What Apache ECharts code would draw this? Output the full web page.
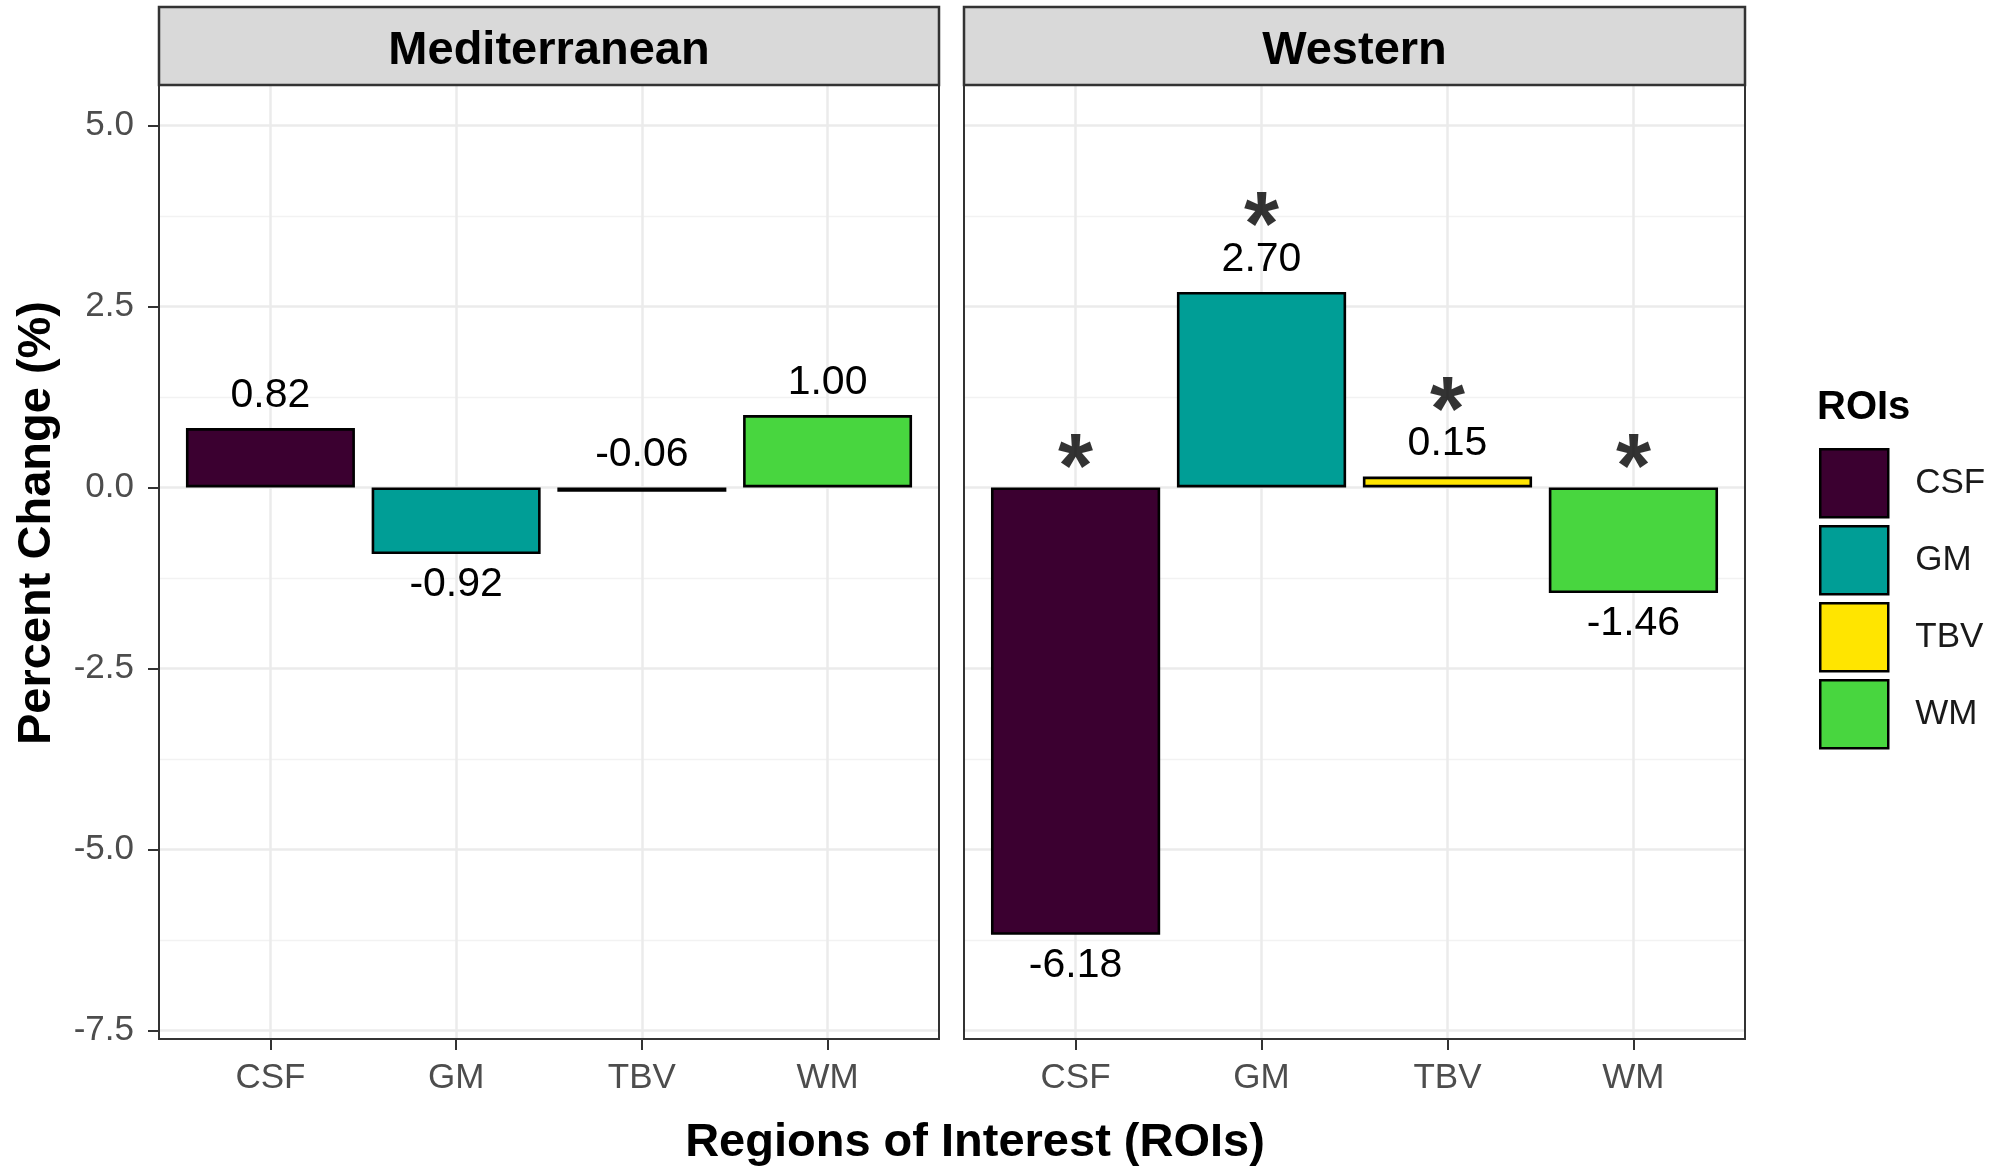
<!DOCTYPE html>
<html>
<head>
<meta charset="utf-8">
<title>Percent Change by ROI</title>
<script src="https://cdn.jsdelivr.net/npm/echarts@6/dist/echarts.min.js"></script>
<style>
  html, body { margin: 0; padding: 0; background: #ffffff; }
  #chart { width: 2006px; height: 1170px; }
</style>
</head>
<body>
<div id="chart"></div>
<script>
// ---- data ----
const categories = ['CSF', 'GM', 'TBV', 'WM'];
const panelNames = ['Mediterranean', 'Western'];
const mediterraneanChange = [0.82, -0.92, -0.06, 1.00];
const westernChange = [-6.18, 2.70, 0.15, -1.46];
const mediterraneanSignificant = [false, false, false, false];
const westernSignificant = [true, true, true, true];
const yTickValues = [-7.5, -5.0, -2.5, 0.0, 2.5, 5.0];
const yMinorValues = [-6.25, -3.75, -1.25, 1.25, 3.75];
const roiColors = ['#3B0030', '#009E96', '#FFE500', '#48D63F'];

const panelValues = [mediterraneanChange, westernChange];
const panelSignificant = [mediterraneanSignificant, westernSignificant];

// ---- layout ----
const FONT = '"Liberation Sans", Arial, Helvetica, sans-serif';
const panelTop = 85, panelBottom = 1039, stripTop = 7;
const panels = [{ left: 159, right: 939 }, { left: 964, right: 1745 }];
const yRange = { min: -7.62, max: 5.56 };
const xRange = { min: 0.4, max: 4.6 };
const xPositions = categories.map((c, i) => i + 1);

const chart = echarts.init(document.getElementById('chart'), null, { renderer: 'canvas' });

const grids = panels.map(p => ({
  left: p.left, top: panelTop, width: p.right - p.left, height: panelBottom - panelTop,
  show: false, containLabel: false
}));

const xAxes = panels.map((p, k) => ({
  type: 'value', gridIndex: k, min: xRange.min, max: xRange.max, position: 'bottom',
  axisLine: { show: false, onZero: false },
  axisTick: { show: true, customValues: xPositions, length: 11, lineStyle: { color: '#333333', width: 2 } },
  axisLabel: {
    show: true, customValues: xPositions, margin: 22,
    fontSize: 35, fontFamily: FONT, color: '#4d4d4d',
    formatter: v => categories[Math.round(v) - 1] || ''
  },
  splitLine: { show: true, lineStyle: { color: '#ebebeb', width: 2.5 } }
}));

const yAxes = [];
panels.forEach((p, k) => {
  // major ticks, labels and grid lines
  yAxes.push({
    type: 'value', gridIndex: k, min: yRange.min, max: yRange.max, position: 'left',
    axisLine: { show: false, onZero: false },
    axisTick: { show: k === 0, customValues: yTickValues, length: 11, lineStyle: { color: '#333333', width: 2 } },
    axisLabel: {
      show: k === 0, customValues: yTickValues, margin: 25,
      fontSize: 35, fontFamily: FONT, color: '#4d4d4d',
      formatter: v => v.toFixed(1)
    },
    splitLine: { show: true, lineStyle: { color: '#ebebeb', width: 2.5 } }
  });
  // minor grid lines
  yAxes.push({
    type: 'value', gridIndex: k, min: yRange.min, max: yRange.max, position: 'right',
    axisLine: { show: false, onZero: false },
    axisTick: { show: false, customValues: yMinorValues },
    axisLabel: { show: false, customValues: yMinorValues },
    splitLine: { show: true, lineStyle: { color: '#f2f2f2', width: 1.3 } }
  });
});

const series = [];
panelValues.forEach((vals, k) => {
  vals.forEach((v, i) => {
    const above = v >= -0.1;
    series.push({
      type: 'bar', name: categories[i],
      xAxisIndex: k, yAxisIndex: k * 2,
      data: [[xPositions[i], v]],
      barWidth: '91%', barGap: '-100%',
      itemStyle: { color: roiColors[i], borderColor: '#000000', borderWidth: 2.6 },
      label: {
        show: true, position: above ? 'top' : 'bottom', distance: above ? 12 : 10,
        fontSize: 41, fontFamily: FONT, color: '#000000',
        formatter: p => p.value[1].toFixed(2)
      },
      emphasis: { disabled: true },
      z: 3
    });
  });
  // significance markers
  const marks = [];
  vals.forEach((v, i) => {
    if (panelSignificant[k][i]) {
      const above = v >= -0.1;
      marks.push({ value: [xPositions[i], Math.max(v, 0)], label: { distance: above ? 16 : -30 } });
    }
  });
  series.push({
    type: 'scatter', name: 'sig-' + k,
    xAxisIndex: k, yAxisIndex: k * 2,
    data: marks, symbol: 'circle', symbolSize: 1,
    itemStyle: { color: 'rgba(0,0,0,0)' },
    label: {
      show: true, position: 'top', formatter: '*',
      fontSize: 90, fontWeight: 'bold', fontFamily: FONT, color: '#000000'
    },
    emphasis: { disabled: true }, silent: true, z: 4
  });
});

const graphics = [];
panels.forEach((p, k) => {
  graphics.push({
    type: 'rect', z: 20,
    shape: { x: p.left, y: stripTop, width: p.right - p.left, height: panelTop - stripTop },
    style: { fill: '#d9d9d9', stroke: '#333333', lineWidth: 2.5 }
  });
  graphics.push({
    type: 'text', z: 21, x: (p.left + p.right) / 2, y: (stripTop + panelTop) / 2 + 5,
    style: {
      text: panelNames[k], fill: '#000000', fontSize: 47, fontWeight: 'bold', fontFamily: FONT,
      align: 'center', verticalAlign: 'middle', textAlign: 'center', textVerticalAlign: 'middle'
    }
  });
  graphics.push({
    type: 'rect', z: 20,
    shape: { x: p.left, y: panelTop, width: p.right - p.left, height: panelBottom - panelTop },
    style: { fill: 'none', stroke: '#333333', lineWidth: 2 }
  });
});
graphics.push({
  type: 'text', z: 21, x: 37, y: 523, rotation: Math.PI / 2,
  style: {
    text: 'Percent Change (%)', fill: '#000000', fontSize: 47, fontWeight: 'bold', fontFamily: FONT,
    align: 'center', verticalAlign: 'middle', textAlign: 'center', textVerticalAlign: 'middle'
  }
});
graphics.push({
  type: 'text', z: 21, x: 975, y: 1143,
  style: {
    text: 'Regions of Interest (ROIs)', fill: '#000000', fontSize: 47, fontWeight: 'bold', fontFamily: FONT,
    align: 'center', verticalAlign: 'middle', textAlign: 'center', textVerticalAlign: 'middle'
  }
});
graphics.push({
  type: 'text', z: 21, x: 1817, y: 408,
  style: {
    text: 'ROIs', fill: '#000000', fontSize: 40, fontWeight: 'bold', fontFamily: FONT,
    align: 'left', verticalAlign: 'middle', textAlign: 'left', textVerticalAlign: 'middle'
  }
});

chart.setOption({
  backgroundColor: '#ffffff',
  animation: false,
  textStyle: { fontFamily: FONT },
  grid: grids,
  xAxis: xAxes,
  yAxis: yAxes,
  legend: {
    data: categories, orient: 'vertical', left: 1819, top: 448, padding: 0,
    itemWidth: 68, itemHeight: 68, itemGap: 6.5, icon: 'rect',
    itemStyle: { borderColor: '#000000', borderWidth: 2.5 },
    textStyle: { fontSize: 35, fontFamily: FONT, color: '#1a1a1a', padding: [0, 0, 0, 22] },
    selectedMode: false
  },
  graphic: graphics,
  series: series
});
</script>
</body>
</html>
